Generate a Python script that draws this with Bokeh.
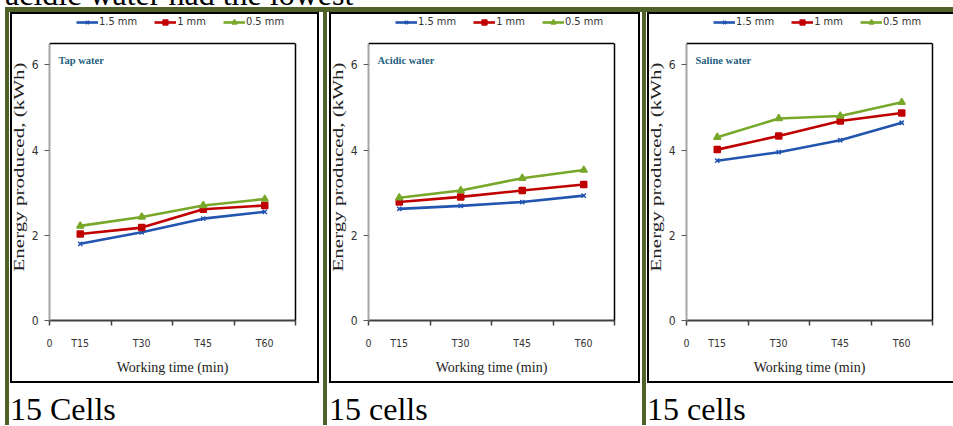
from bokeh.plotting import figure
from bokeh.layouts import row, column
from bokeh.models import (Range1d, FixedTicker, Legend, LegendItem, Label, Div,
                          LinearAxis, Span)
from bokeh.embed import file_html
from bokeh.resources import INLINE

# ---------------- data ----------------
times = ["T15", "T30", "T45", "T60"]
thickness_labels = ["1.5 mm", "1 mm", "0.5 mm"]
y_ticks = [0, 2, 4, 6]
y_max = 6.5

tap_1_5mm = [1.80, 2.07, 2.39, 2.55]
tap_1mm = [2.03, 2.18, 2.61, 2.70]
tap_0_5mm = [2.22, 2.43, 2.70, 2.85]

acidic_1_5mm = [2.62, 2.69, 2.78, 2.93]
acidic_1mm = [2.78, 2.90, 3.05, 3.19]
acidic_0_5mm = [2.88, 3.05, 3.34, 3.53]

saline_1_5mm = [3.75, 3.95, 4.23, 4.64]
saline_1mm = [4.01, 4.33, 4.68, 4.87]
saline_0_5mm = [4.30, 4.74, 4.80, 5.12]

panel_titles = ["Tap water", "Acidic water", "Saline water"]
captions = ["15 Cells", "15 cells", "15 cells"]
top_text = "acidic water had the lowest"
y_title = "Energy produced, (kWh)"
x_title = "Working time (min)"

# ---------------- style ----------------
OLIVE = "#4F6228"
COLORS = ["#2255B0", "#C00000", "#78A82A"]
MARKERS = ["x", "square", "triangle"]
MSIZE = [6, 6, 7]
NARROW = "Liberation Sans Narrow, DejaVu Sans Condensed, sans-serif"
SERIF = "Liberation Serif"
FRAME_W = 247
PLOT_H = 277      # height of the boxed plot area
HEADER_H = 29     # room above the box for the legend
BOTTOM_H = 61
YDIV_W = 16
CANVAS_H = HEADER_H + PLOT_H + BOTTOM_H


def make_panel(title, series, canvas_w):
    fw = canvas_w - YDIV_W
    y_end = y_max * (PLOT_H + HEADER_H) / PLOT_H
    p = figure(width=fw, height=CANVAS_H,
               x_range=Range1d(0, len(times)), y_range=Range1d(0, y_end),
               output_backend="svg", toolbar_location=None,
               min_border_left=20, min_border_right=fw - 20 - FRAME_W,
               min_border_top=0, min_border_bottom=BOTTOM_H,
               background_fill_color="white", border_fill_color="white",
               outline_line_color=None, margin=0)
    p.grid.visible = False

    centers = [i + 0.5 for i in range(len(times))]
    bounds = list(range(len(times) + 1))
    xa = p.xaxis[0]
    xa.ticker = FixedTicker(ticks=[0] + centers, minor_ticks=bounds)
    overrides = {0: "0"}
    overrides.update({c: t for c, t in zip(centers, times)})
    xa.major_label_overrides = overrides
    xa.major_tick_out = 0
    xa.major_tick_in = 0
    xa.minor_tick_out = 5
    xa.minor_tick_in = 0
    xa.minor_tick_line_color = "#404040"
    xa.minor_tick_line_width = 1.5
    xa.axis_line_color = "#404040"
    xa.axis_line_width = 2
    xa.major_label_standoff = 11
    xa.major_label_text_font = NARROW
    xa.major_label_text_font_size = "10.5px"
    xa.major_label_text_color = "#333333"
    xa.axis_label = x_title
    xa.axis_label_text_font = SERIF
    xa.axis_label_text_font_style = "normal"
    xa.axis_label_text_font_size = "14px"
    xa.axis_label_text_color = "#222222"
    xa.axis_label_standoff = 8

    ya = p.yaxis[0]
    ya.ticker = FixedTicker(ticks=y_ticks, minor_ticks=[])
    ya.bounds = (0, y_max)
    ya.axis_line_color = "#A6A6A6"
    ya.axis_line_width = 2
    ya.major_tick_out = 5
    ya.major_tick_in = 0
    ya.major_tick_line_color = "#595959"
    ya.major_label_standoff = 6
    ya.major_label_text_font = NARROW
    ya.major_label_text_font_size = "12px"
    ya.major_label_text_color = "#333333"

    # right and top edges of the plot box
    ra = LinearAxis(ticker=FixedTicker(ticks=[], minor_ticks=[]), bounds=(0, y_max),
                    axis_line_color="black", axis_line_width=1.5,
                    major_tick_out=0, major_tick_in=0, minor_tick_out=0,
                    minor_tick_in=0, major_label_standoff=0)
    p.add_layout(ra, "right")
    p.add_layout(Span(location=y_max, dimension="width", line_color="black",
                      line_width=1.5))

    items = []
    for vals, lab, col, mk, ms in zip(series, thickness_labels, COLORS, MARKERS, MSIZE):
        lr = p.line(centers, vals, line_color=col, line_width=2.6)
        sr = p.scatter(centers, vals, marker=mk, size=ms, line_color=col,
                       fill_color=col, line_width=1.5)
        items.append(LegendItem(label=lab, renderers=[lr, sr]))

    legend = Legend(items=items, orientation="horizontal",
                    location=(27, PLOT_H + HEADER_H - 14),
                    padding=0, margin=0, spacing=17, glyph_width=22,
                    glyph_height=12, label_height=12, label_standoff=1,
                    border_line_color=None, background_fill_alpha=0,
                    label_text_font=NARROW, label_text_font_size="11px",
                    label_text_color="#333333")
    p.add_layout(legend)

    p.add_layout(Label(x=9, y=PLOT_H - 17, x_units="screen", y_units="screen",
                       text=title, text_font=SERIF, text_font_style="bold",
                       text_font_size="10.5px", text_color="#1F5F80",
                       text_baseline="middle"))
    return p


def ylabel_div():
    html = ('<div style="position:absolute;left:50%;top:153px;'
            'transform:translate(-50%,-50%) rotate(-90deg) scaleX(1.5);'
            'white-space:nowrap;font-family:\'Liberation Serif\';font-size:14px;'
            'line-height:14px;color:#222222;">' + y_title + '</div>')
    return Div(text=html, width=YDIV_W, height=CANVAS_H, margin=0,
               styles={"background-color": "white", "position": "relative",
                       "overflow": "visible"})


def caption_div(text, w):
    return Div(text=text, width=w, height=42, margin=0,
               styles={"font-family": SERIF, "font-size": "32px",
                       "line-height": "32px", "padding-top": "10px",
                       "color": "black", "box-sizing": "border-box"})


def chart_box(p, pad):
    inner = row(ylabel_div(), p, spacing=0, styles={"background-color": "white"})
    return column(inner, spacing=0,
                  styles={"background-color": "black", "padding": pad})


p1 = make_panel(panel_titles[0], [tap_1_5mm, tap_1mm, tap_0_5mm], 305)
p2 = make_panel(panel_titles[1], [acidic_1_5mm, acidic_1mm, acidic_0_5mm], 307)
p3 = make_panel(panel_titles[2], [saline_1_5mm, saline_1mm, saline_0_5mm], 304)

c1 = column(chart_box(p1, "2px"), caption_div(captions[0], 300), spacing=0,
            styles={"background-color": "white", "padding-left": "1px", "padding-right": "4px"})
c2 = column(chart_box(p2, "2px"), caption_div(captions[1], 300), spacing=0,
            styles={"background-color": "white", "padding-left": "2px", "padding-right": "2px"})
c3 = column(chart_box(p3, "2px 0px 2px 2px"), caption_div(captions[2], 300), spacing=0,
            styles={"background-color": "white", "padding-left": "1px"})

band = row(c1, c2, c3, spacing=4,
           styles={"background-color": OLIVE, "padding-top": "5px", "padding-left": "4px"})

top = Div(text=top_text, width=900, height=29, margin=0,
          styles={"font-family": SERIF, "font-size": "32px", "line-height": "32px",
                  "color": "black", "white-space": "nowrap"})

root = column(top, band, spacing=0,
              styles={"margin-top": "-22px", "margin-left": "5px", "margin-bottom": "-16px"})

open("out.html", "w").write(file_html(root, INLINE))
